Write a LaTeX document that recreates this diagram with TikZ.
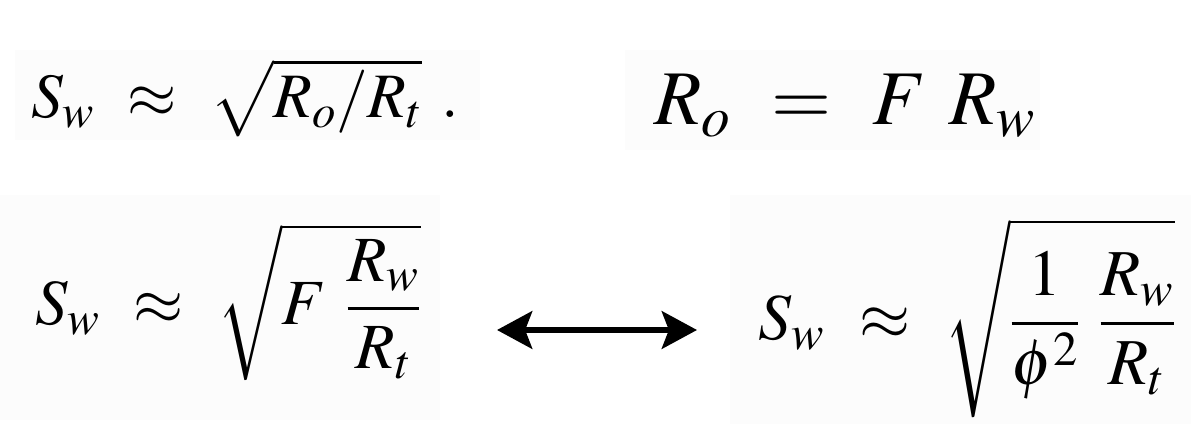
\documentclass[tikz,border=0pt]{standalone}
\usepackage{mathptmx}
\usetikzlibrary{arrows.meta}
\begin{document}
\begin{tikzpicture}[x=0.03cm,y=-0.03cm,
  eq/.style={inner sep=0pt,anchor=center},
  bg/.style={fill=gray!2,draw=none}]
\useasboundingbox (0,0) rectangle (1191,424);
\fill[white] (0,0) rectangle (1191,424);
\fill[bg] (15,50) rectangle (480,140);
\fill[bg] (625,50) rectangle (1040,150);
\fill[bg] (0,195) rectangle (440,420);
\fill[bg] (730,195) rectangle (1191,424);
\node[eq] (e1) at (245,98) {\fontsize{54}{60}\selectfont $S_w\ \approx\ \sqrt{R_o/R_t}\ .$};
\node[eq] (e2) at (845,106) {\fontsize{66}{72}\selectfont $R_o\ =\ F\ R_w$};
\node[eq] (e3) at (228,302) {\fontsize{55}{62}\selectfont $\displaystyle S_w\ \approx\ \sqrt{F\ \frac{R_w}{R_t}}$};
\node[eq] (e4) at (967,318) {\fontsize{56}{62}\selectfont $\displaystyle S_w\ \approx\ \sqrt{\frac{1}{\phi^2}\ \frac{R_w}{R_t}}$};
\coordinate (a1) at (497,330);
\coordinate (a2) at (697,330);
\draw[line width=5pt,{Stealth[length=30pt,width=32pt,inset=6pt]}-{Stealth[length=30pt,width=32pt,inset=6pt]}] (a1) -- (a2);
\end{tikzpicture}
\end{document}
